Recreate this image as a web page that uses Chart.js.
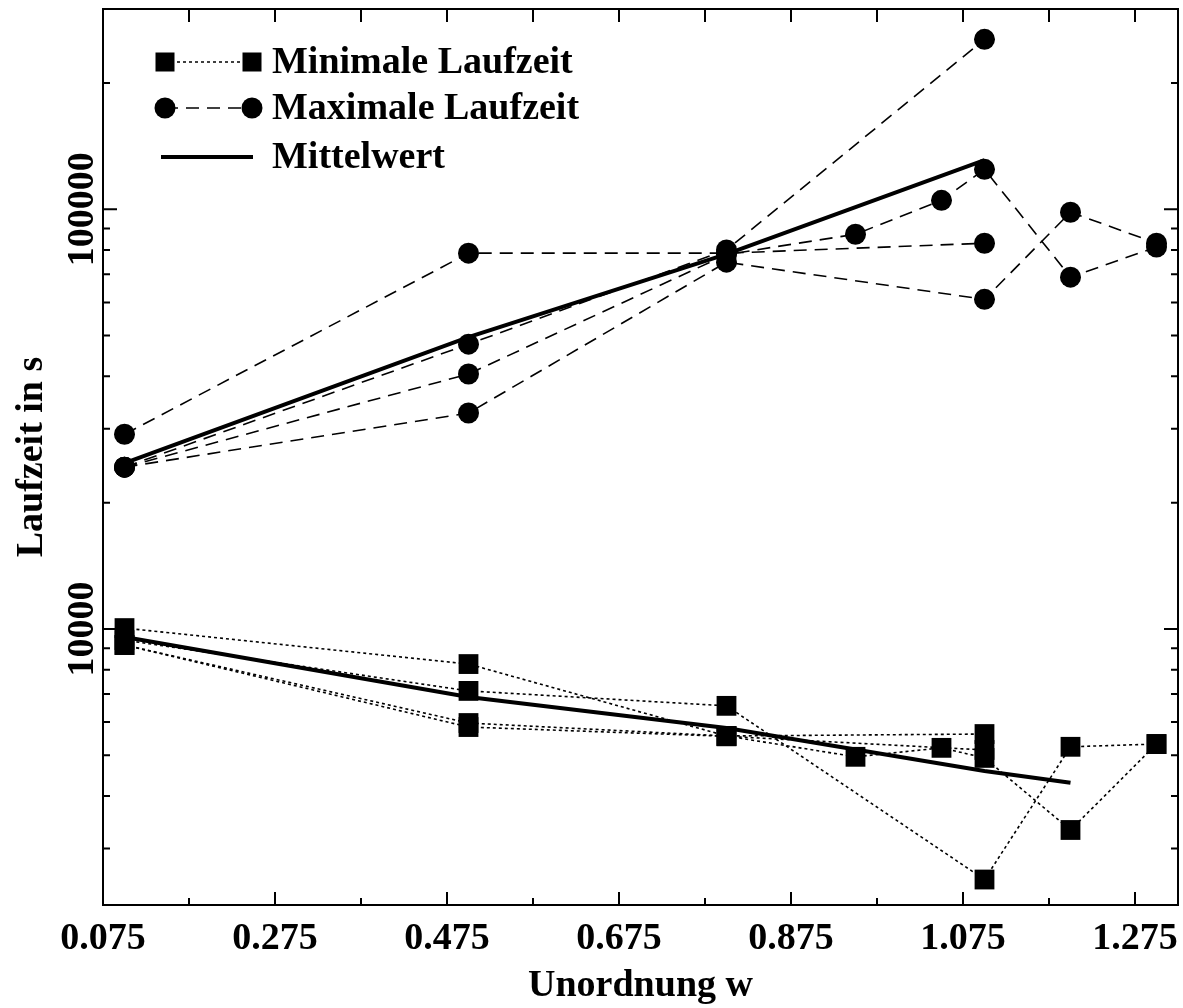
<!DOCTYPE html>
<html lang="de">
<head>
<meta charset="utf-8">
<title>Laufzeit gegen Unordnung</title>
<script src="https://cdn.jsdelivr.net/npm/chart.js@4.4.1/dist/chart.umd.min.js"></script>
<style>
  html, body { margin: 0; padding: 0; background: #fff; }
  #wrap { width: 1183px; height: 1008px; }
</style>
</head>
<body>
<div id="wrap"><canvas id="laufzeitChart" width="1183" height="1008"></canvas></div>
<script>
// Achsen: Unordnung w (linear) und Laufzeit in s (logarithmisch)
const xRange = [0.075, 1.325];
const yRange = [2200, 300000];
const xTicksMajor = [0.075, 0.275, 0.475, 0.675, 0.875, 1.075, 1.275];
const xTicksMinor = [0.175, 0.375, 0.575, 0.775, 0.975, 1.175];
const yTicksMajor = [10000, 100000];
const yTicksMinor = [3000, 4000, 5000, 6000, 7000, 8000, 9000,
  20000, 30000, 40000, 50000, 60000, 70000, 80000, 90000, 200000, 300000];

const legendLabels = ["Minimale Laufzeit", "Maximale Laufzeit", "Mittelwert"];
const xTitle = "Unordnung w";
const yTitle = "Laufzeit in s";

// maximale Laufzeit, ein Array pro Lauf
const wMax1 = [0.1, 0.5, 0.8, 1.1];
const tMax1 = [29100, 78600, 78600, 83000];
const wMax2 = [0.1, 0.5, 0.8, 1.1];
const tMax2 = [24300, 47700, 80000, 254000];
const wMax3 = [0.1, 0.5, 0.8, 0.95, 1.05, 1.1, 1.2, 1.3];
const tMax3 = [24300, 40500, 78000, 87200, 105000, 124500, 68900, 81300];
const wMax4 = [0.1, 0.5, 0.8, 1.1, 1.2, 1.3];
const tMax4 = [24300, 32700, 74800, 61000, 98400, 83000];

// minimale Laufzeit
const wMin1 = [0.1, 0.5, 0.8, 1.1];
const tMin1 = [10050, 8250, 5560, 5620];
const wMin2 = [0.1, 0.5, 0.8, 1.1, 1.2, 1.3];
const tMin2 = [9410, 7120, 6560, 2530, 5240, 5320];
const wMin3 = [0.1, 0.5, 0.8, 0.95, 1.05, 1.1, 1.2, 1.3];
const tMin3 = [9160, 5970, 5560, 4960, 5210, 4930, 3320, 5320];
const wMin4 = [0.1, 0.5, 0.8, 1.1];
const tMin4 = [9160, 5840, 5550, 5150];

// Mittelwerte
const wMittelMax = [0.1, 0.5, 0.8, 1.1];
const tMittelMax = [24850, 49600, 78200, 130900];
const wMittelMin = [0.1, 0.5, 0.8, 1.1, 1.2];
const tMittelMin = [9570, 6890, 5810, 4590, 4300];

const FONT = '"Liberation Serif", "Times New Roman", serif';

function punkte(ws, ts) {
  return ws.map((w, i) => ({ x: w, y: ts[i] }));
}

function maxLauf(ws, ts) {
  return {
    data: punkte(ws, ts),
    borderColor: "#000",
    backgroundColor: "#000",
    borderWidth: 1.6,
    borderDash: [13, 8],
    pointStyle: "circle",
    pointRadius: 10.5,
    pointBorderWidth: 0,
  };
}

function minLauf(ws, ts) {
  return {
    data: punkte(ws, ts),
    borderColor: "#000",
    backgroundColor: "#000",
    borderWidth: 1.6,
    borderDash: [3, 3],
    pointStyle: "rect",
    pointRadius: 14,
    pointBorderWidth: 0,
  };
}

function mittel(ws, ts) {
  return {
    data: punkte(ws, ts),
    borderColor: "#000",
    borderWidth: 4,
    pointRadius: 0,
  };
}

// Rahmen, Ticks nach innen, Beschriftung und Legende
const achsen = {
  id: "achsen",
  afterDraw(chart) {
    const { ctx, chartArea: a } = chart;
    const x = chart.scales.x;
    const y = chart.scales.y;
    ctx.save();
    ctx.strokeStyle = "#000";
    ctx.fillStyle = "#000";
    ctx.lineWidth = 2;
    ctx.setLineDash([]);
    ctx.strokeRect(a.left, a.top, a.right - a.left, a.bottom - a.top);

    ctx.beginPath();
    xTicksMajor.forEach(v => {
      const px = x.getPixelForValue(v);
      ctx.moveTo(px, a.bottom); ctx.lineTo(px, a.bottom - 13);
    });
    xTicksMinor.forEach(v => {
      const px = x.getPixelForValue(v);
      ctx.moveTo(px, a.bottom); ctx.lineTo(px, a.bottom - 7);
    });
    xTicksMajor.concat(xTicksMinor).forEach(v => {
      const px = x.getPixelForValue(v);
      ctx.moveTo(px, a.top); ctx.lineTo(px, a.top + 13);
    });
    yTicksMajor.forEach(v => {
      const py = y.getPixelForValue(v);
      ctx.moveTo(a.left, py); ctx.lineTo(a.left + 14, py);
      ctx.moveTo(a.right, py); ctx.lineTo(a.right - 14, py);
    });
    yTicksMinor.forEach(v => {
      const py = y.getPixelForValue(v);
      ctx.moveTo(a.left, py); ctx.lineTo(a.left + 7, py);
      ctx.moveTo(a.right, py); ctx.lineTo(a.right - 7, py);
    });
    ctx.stroke();

    // Tick-Beschriftung
    ctx.font = "bold 38px " + FONT;
    ctx.textAlign = "center";
    ctx.textBaseline = "middle";
    xTicksMajor.forEach(v => {
      ctx.fillText(v.toFixed(3), x.getPixelForValue(v), a.bottom + 34);
    });
    ctx.textBaseline = "alphabetic";
    yTicksMajor.forEach(v => {
      ctx.save();
      ctx.translate(a.left - 10, y.getPixelForValue(v));
      ctx.rotate(-Math.PI / 2);
      ctx.fillText(String(v), 0, 0);
      ctx.restore();
    });

    // Achsentitel
    ctx.textBaseline = "middle";
    ctx.fillText(xTitle, (a.left + a.right) / 2, a.bottom + 81);
    ctx.save();
    ctx.translate(42, (a.top + a.bottom) / 2);
    ctx.rotate(-Math.PI / 2);
    ctx.textBaseline = "alphabetic";
    ctx.fillText(yTitle, 0, 0);
    ctx.restore();

    // Legende
    const lx1 = a.left + 62, lx2 = a.left + 149, tx = a.left + 169;
    const rows = [a.top + 53, a.top + 99, a.top + 148];
    ctx.lineWidth = 1.6;
    ctx.setLineDash([3, 3]);
    ctx.beginPath(); ctx.moveTo(lx1, rows[0]); ctx.lineTo(lx2, rows[0]); ctx.stroke();
    ctx.setLineDash([13, 8]);
    ctx.beginPath(); ctx.moveTo(lx1, rows[1]); ctx.lineTo(lx2, rows[1]); ctx.stroke();
    ctx.setLineDash([]);
    ctx.lineWidth = 4;
    ctx.beginPath(); ctx.moveTo(lx1 - 4, rows[2]); ctx.lineTo(lx2 + 1, rows[2]); ctx.stroke();
    [lx1, lx2].forEach(px => {
      ctx.fillRect(px - 9.5, rows[0] - 9.5, 19, 19);
      ctx.beginPath(); ctx.arc(px, rows[1], 10.5, 0, Math.PI * 2); ctx.fill();
    });
    ctx.textAlign = "left";
    ctx.textBaseline = "middle";
    legendLabels.forEach((t, i) => ctx.fillText(t, tx, rows[i] + 1));
    ctx.restore();
  }
};

new Chart(document.getElementById("laufzeitChart"), {
  type: "line",
  data: {
    datasets: [
      maxLauf(wMax1, tMax1),
      maxLauf(wMax2, tMax2),
      maxLauf(wMax3, tMax3),
      maxLauf(wMax4, tMax4),
      minLauf(wMin1, tMin1),
      minLauf(wMin2, tMin2),
      minLauf(wMin3, tMin3),
      minLauf(wMin4, tMin4),
      mittel(wMittelMax, tMittelMax),
      mittel(wMittelMin, tMittelMin),
    ],
  },
  options: {
    responsive: false,
    animation: false,
    events: [],
    layout: { autoPadding: false, padding: { top: 9, right: 5, left: 0, bottom: 0 } },
    plugins: {
      legend: { display: false },
      tooltip: { enabled: false },
    },
    scales: {
      x: {
        type: "linear",
        min: xRange[0],
        max: xRange[1],
        grid: { display: false },
        border: { display: false },
        ticks: { display: false },
        afterFit: s => { s.height = 103; },
      },
      y: {
        type: "logarithmic",
        min: yRange[0],
        max: yRange[1],
        grid: { display: false },
        border: { display: false },
        ticks: { display: false },
        afterFit: s => { s.width = 103; },
      },
    },
  },
  plugins: [achsen],
});
</script>
</body>
</html>
